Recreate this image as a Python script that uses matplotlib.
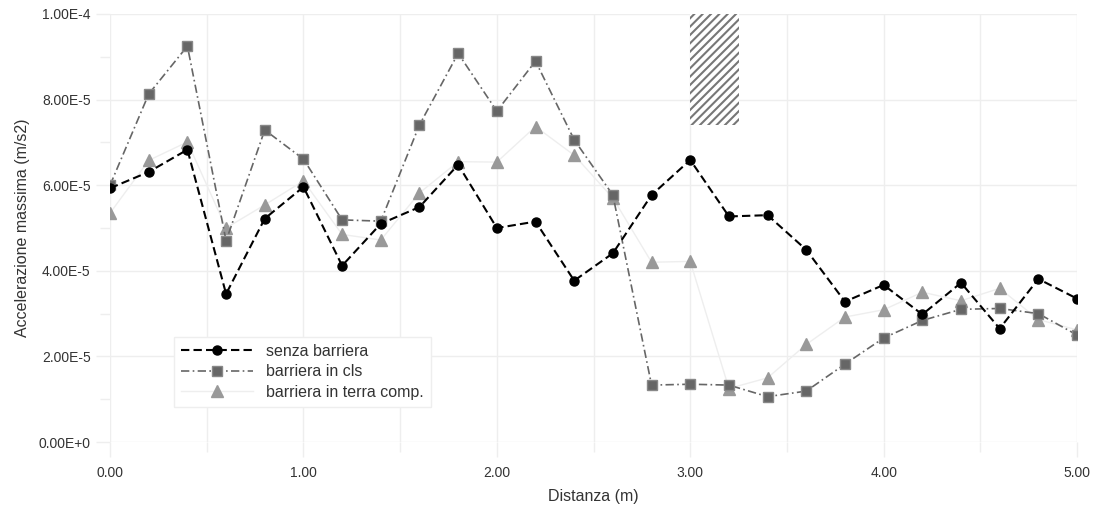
import matplotlib
matplotlib.use('Agg')
import matplotlib.pyplot as plt
from matplotlib.patches import Rectangle

plt.rcParams['font.family'] = ['Liberation Sans', 'DejaVu Sans']
plt.rcParams['hatch.linewidth'] = 1.5

# dati
distanza = [0.0, 0.2, 0.4, 0.6, 0.8, 1.0, 1.2, 1.4, 1.6, 1.8, 2.0, 2.2, 2.4,
            2.6, 2.8, 3.0, 3.2, 3.4, 3.6, 3.8, 4.0, 4.2, 4.4, 4.6, 4.8, 5.0]
senza_barriera = [5.93, 6.31, 6.83, 3.46, 5.22, 5.96, 4.12, 5.10, 5.49, 6.48,
                  5.00, 5.15, 3.77, 4.41, 5.77, 6.59, 5.27, 5.30, 4.49, 3.28,
                  3.67, 2.98, 3.72, 2.65, 3.81, 3.35]
barriera_cls = [6.00, 8.13, 9.25, 4.70, 7.29, 6.61, 5.19, 5.16, 7.41, 9.08,
                7.73, 8.90, 7.06, 5.77, 1.33, 1.35, 1.33, 1.06, 1.19, 1.82,
                2.43, 2.84, 3.10, 3.12, 3.00, 2.50]
barriera_terra = [5.35, 6.58, 7.01, 5.00, 5.54, 6.10, 4.85, 4.72, 5.82, 6.55,
                  6.54, 7.37, 6.70, 5.70, 4.20, 4.22, 1.25, 1.50, 2.28, 2.92,
                  3.09, 3.50, 3.30, 3.59, 2.86, 2.62]
scala = 1e-5

x_ticks = [0, 1, 2, 3, 4, 5]
x_labels = ['0.00', '1.00', '2.00', '3.00', '4.00', '5.00']
y_ticks = [0, 2e-5, 4e-5, 6e-5, 8e-5, 1e-4]
y_labels = ['0.00E+0', '2.00E-5', '4.00E-5', '6.00E-5', '8.00E-5', '1.00E-4']

fig = plt.figure(figsize=(10.95, 5.09), dpi=100)
ax = fig.add_axes([0.1005, 0.1316, 0.8831, 0.8409])

# zona barriera (tratteggio)
ax.add_patch(Rectangle((3.0, 7.4e-5), 0.25, 2.6e-5, facecolor='white',
                       hatch='////', edgecolor='#777777', linewidth=0,
                       zorder=2))

ax.plot(distanza, [v * scala for v in barriera_terra], color='#eeeeee', lw=1.0,
        marker='^', markersize=9, markerfacecolor='#999999',
        markeredgecolor='#999999', label='barriera in terra comp.', zorder=3)
ax.plot(distanza, [v * scala for v in barriera_cls], color='#666666', lw=1.2,
        linestyle=(0, (5, 2, 1, 2)), marker='s', markersize=6.5,
        markerfacecolor='#666666', markeredgecolor='#888888',
        label='barriera in cls', zorder=4)
ax.plot(distanza, [v * scala for v in senza_barriera], color='black', lw=1.5,
        linestyle=(0, (4, 2)), marker='o', markersize=6.5,
        label='senza barriera', zorder=5)

ax.set_xlim(0, 5)
ax.set_ylim(0, 1e-4)
ax.set_xticks(x_ticks)
ax.set_xticklabels(x_labels)
ax.set_xticks([0.5, 1.5, 2.5, 3.5, 4.5], minor=True)
ax.set_yticks(y_ticks)
ax.set_yticklabels(y_labels)
ax.set_yticks([1e-5, 3e-5, 5e-5, 7e-5, 9e-5], minor=True)

ax.grid(True, which='major', color='#eeeeee', lw=1.0)
ax.grid(True, which='minor', axis='x', color='#eeeeee', lw=1.0)
ax.tick_params(which='major', color='#eeeeee', length=10, width=1.0,
               labelsize=10, labelcolor='#333333', pad=4)
ax.tick_params(which='minor', color='#eeeeee', length=7, width=1.0)
ax.tick_params(axis='x', which='major', length=11, pad=6)
for s in ax.spines.values():
    s.set_visible(False)

ax.set_xlabel('Distanza (m)', fontsize=11.5, color='#333333', labelpad=7)
ax.set_ylabel('Accelerazione massima (m/s2)', fontsize=11.5, color='#333333',
              labelpad=6)

h, l = ax.get_legend_handles_labels()
leg = ax.legend(h[::-1], l[::-1], loc='upper left',
                bbox_to_anchor=(0.058, 0.265), fontsize=11.5, frameon=True,
                fancybox=False, edgecolor='#eeeeee', framealpha=1,
                handlelength=4.5, handletextpad=0.8, labelspacing=0.35,
                borderpad=0.45)
for t in leg.get_texts():
    t.set_color('#333333')

fig.savefig('out.png', dpi=100)
